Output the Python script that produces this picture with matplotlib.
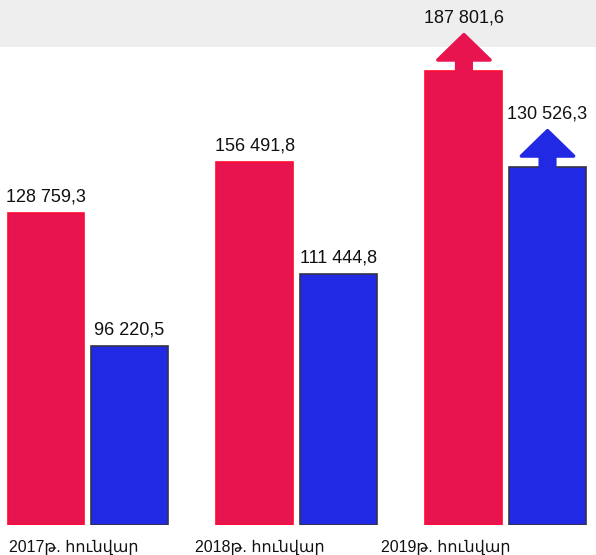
import matplotlib.pyplot as plt
from matplotlib.patches import FancyArrow, Rectangle
import numpy as np

# Տվյալներ
years = ["2017թ. հունվար", "2018թ. հունվար", "2019թ. հունվար"]
red_labels = ["128 759,3", "156 491,8", "187 801,6"]
blue_labels = ["96 220,5", "111 444,8", "130 526,3"]
# bar heights as drawn in the picture (thousands), not strictly to scale
red_heights = [128.8, 149.9, 187.5]
blue_heights = [73.8, 103.6, 147.8]
has_arrow = [False, False, True]

RED = "#e8144f"
BLUE = "#2229e5"


def main():
    plt.rcParams['font.family'] = ['Liberation Sans', 'DejaVu Sans']
    fig = plt.figure(figsize=(5.96, 5.55), dpi=100)
    # faint background texture band at the top
    fig.patches.append(Rectangle((0, 0.915), 1, 0.085, transform=fig.transFigure,
                                 facecolor="#eeeeee", edgecolor="none", zorder=-5))
    ax = fig.add_axes([0, 30.5 / 555, 1, 524.5 / 555])
    ax.set_zorder(2)
    ax.patch.set_alpha(0)

    x = np.arange(len(years))
    off = 0.2
    w = 0.368
    ax.bar(x - off, red_heights, w, color=RED, edgecolor="#ff0a32", linewidth=1.2)
    ax.bar(x + off, blue_heights, w, color=BLUE, edgecolor="#333344", linewidth=1.2)

    ax.set_xlim(-0.42, 2.432)
    ax.set_ylim(0, 216.8)

    head_len = 10.5
    for i in range(len(years)):
        for xc, h, lab, col in ((x[i] - off, red_heights[i], red_labels[i], RED),
                                (x[i] + off, blue_heights[i], blue_labels[i], BLUE)):
            top = h
            if has_arrow[i]:
                alen = 15.0
                ax.add_patch(FancyArrow(xc, h, 0, alen, width=0.07,
                                        head_width=0.25, head_length=head_len,
                                        length_includes_head=True, color=col,
                                        linewidth=2.5, joinstyle='round'))
                top = h + alen
            ax.text(xc, top + 3.2, lab, ha="center", va="bottom",
                    fontsize=13, color="#111111", clip_on=False)

    # year labels sit a little off the group centres, as in the original
    ax.set_xticks([-0.066, 0.824, 1.714])
    ax.set_xticklabels(years, fontsize=11.5, color="#111111")
    ax.tick_params(axis="x", length=0, pad=11)
    ax.set_yticks([])
    for s in ax.spines.values():
        s.set_visible(False)

    fig.savefig("out.png", dpi=100)


if __name__ == "__main__":
    main()
